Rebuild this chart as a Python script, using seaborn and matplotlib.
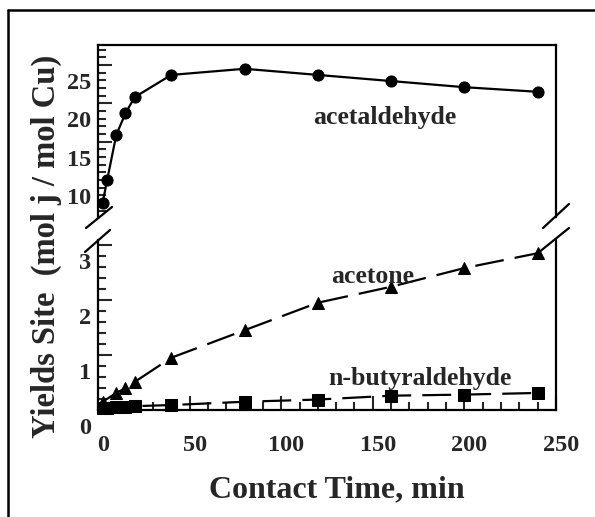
import numpy as np
import pandas as pd
import matplotlib
matplotlib.use("Agg")
import matplotlib.pyplot as plt
import matplotlib.transforms as mtransforms
from matplotlib.lines import Line2D
from matplotlib.ticker import MultipleLocator
import seaborn as sns

# ---- data ----
time_acetaldehyde = [2.5, 5, 10, 15, 20, 40, 80, 120, 160, 200, 240]
yield_acetaldehyde = [7.0, 10.0, 15.9, 18.7, 20.8, 23.7, 24.5, 23.7, 22.9, 22.1, 21.5]

time_acetone = [2.5, 10, 15, 20, 40, 80, 120, 160, 200, 240]
yield_acetone = [0.15, 0.31, 0.40, 0.51, 0.95, 1.45, 1.95, 2.24, 2.58, 2.85]

time_butyr = [2.5, 5, 10, 15, 20, 40, 80, 120, 160, 200, 240]
yield_butyr = [0.03, 0.04, 0.05, 0.06, 0.07, 0.09, 0.15, 0.19, 0.26, 0.28, 0.31]

x_ticks = [0, 50, 100, 150, 200, 250]
top_yticks = [10, 15, 20, 25]
bot_yticks = [0, 1, 2, 3]

sns.set_style("white")
plt.rcParams['font.family'] = ['Liberation Serif', 'DejaVu Serif']
plt.rcParams['font.weight'] = 'bold'

W, H = 595, 517
fig = plt.figure(figsize=(W / 100, H / 100), dpi=100)

def fx(px):
    return px / W

def fy(py):
    return 1 - py / H

L, R = 98, 556
ax_top = fig.add_axes([fx(L), fy(217), (R - L) / W, (217 - 45) / H])
ax_bot = fig.add_axes([fx(L), fy(410), (R - L) / W, (410 - 240) / H])

df_a = pd.DataFrame({"t": time_acetaldehyde, "y": yield_acetaldehyde})
df_b = pd.DataFrame({"t": time_acetone, "y": yield_acetone})
df_c = pd.DataFrame({"t": time_butyr, "y": yield_butyr})

sns.lineplot(data=df_a, x="t", y="y", ax=ax_top, color="black", linewidth=1.6,
             marker="o", markersize=8, markeredgecolor="black", clip_on=False)
sns.lineplot(data=df_b, x="t", y="y", ax=ax_bot, color="black", linewidth=1.6,
             marker="^", markersize=9, markeredgecolor="black", clip_on=False)
ax_bot.lines[-1].set_dashes([13, 5])
sns.lineplot(data=df_c, x="t", y="y", ax=ax_bot, color="black", linewidth=1.6,
             marker="s", markersize=8, markeredgecolor="black", clip_on=False)
ax_bot.lines[-1].set_dashes([13, 5])

# axes limits
for ax in (ax_top, ax_bot):
    ax.set_xlim(0, 250)
    ax.set_xlabel("")
    ax.set_ylabel("")
    for s in ax.spines.values():
        s.set_color("black")
        s.set_linewidth(1.6)

ax_top.set_ylim(5.18, 27.6)
ax_bot.set_ylim(0, 3.09)

ax_top.spines['bottom'].set_visible(False)
ax_bot.spines['top'].set_visible(False)

ax_top.set_yticks(top_yticks)
ax_top.yaxis.set_minor_locator(MultipleLocator(1))
ax_top.set_xticks([])
ax_bot.set_yticks(bot_yticks)
ax_bot.yaxis.set_minor_locator(MultipleLocator(0.2))
ax_bot.set_xticks(x_ticks)
ax_bot.xaxis.set_minor_locator(MultipleLocator(10))

for ax in (ax_top, ax_bot):
    ax.tick_params(axis='y', which='major', direction='in', length=10, width=1.5,
                   labelsize=17.5, left=True, right=False, pad=5)
    ax.tick_params(axis='y', which='minor', direction='in', length=6, width=1.5,
                   left=True, right=False)
ax_top.tick_params(axis='x', which='both', bottom=False, top=False, labelbottom=False)
ax_bot.tick_params(axis='x', which='major', direction='in', length=10, width=1.5,
                   labelsize=17.5, bottom=True, top=False, pad=18)
ax_bot.tick_params(axis='x', which='minor', direction='in', length=6, width=1.5,
                   bottom=True, top=False)

for ax in (ax_top, ax_bot):
    for lab in ax.get_yticklabels():
        lab.set_fontweight('bold')
        lab.set_transform(lab.get_transform() +
                          mtransforms.ScaledTranslation(0, -0.16, fig.dpi_scale_trans))
for lab in ax_bot.get_xticklabels():
    lab.set_fontweight('bold')
    lab.set_transform(lab.get_transform() +
                      mtransforms.ScaledTranslation(0.05, 0, fig.dpi_scale_trans))

# series labels
ax_top.text(156.7, 18.2, "acetaldehyde", fontsize=18.5, fontweight='bold',
            ha='center', va='center')
ax_bot.text(150, 2.42, "acetone", fontsize=18.5, fontweight='bold',
            ha='center', va='center')
ax_bot.text(176, 0.58, "n-butyraldehyde", fontsize=18.5, fontweight='bold',
            ha='center', va='center')

# axis titles
fig.text(fx(337), fy(490), "Contact Time, min", fontsize=23, fontweight='bold',
         ha='center', va='center')
fig.text(fx(46), fy(246), "Yields Site  (mol j / mol Cu)", fontsize=23.5,
         fontweight='bold', ha='center', va='center', rotation=90)

# break marks
for (x0, y0, x1, y1) in [(86, 228, 112, 207), (85, 252, 110, 230),
                         (543, 228, 569, 204), (538, 253, 569, 228)]:
    fig.add_artist(Line2D([fx(x0), fx(x1)], [fy(y0), fy(y1)],
                          transform=fig.transFigure, color='black', linewidth=1.6))

# outer frame
fig.add_artist(Line2D([fx(8), fx(600)], [fy(10), fy(10)], transform=fig.transFigure,
                      color='black', linewidth=1.8))
fig.add_artist(Line2D([fx(8), fx(8)], [fy(10), fy(520)], transform=fig.transFigure,
                      color='black', linewidth=1.8))

fig.savefig("out.png", dpi=100)
